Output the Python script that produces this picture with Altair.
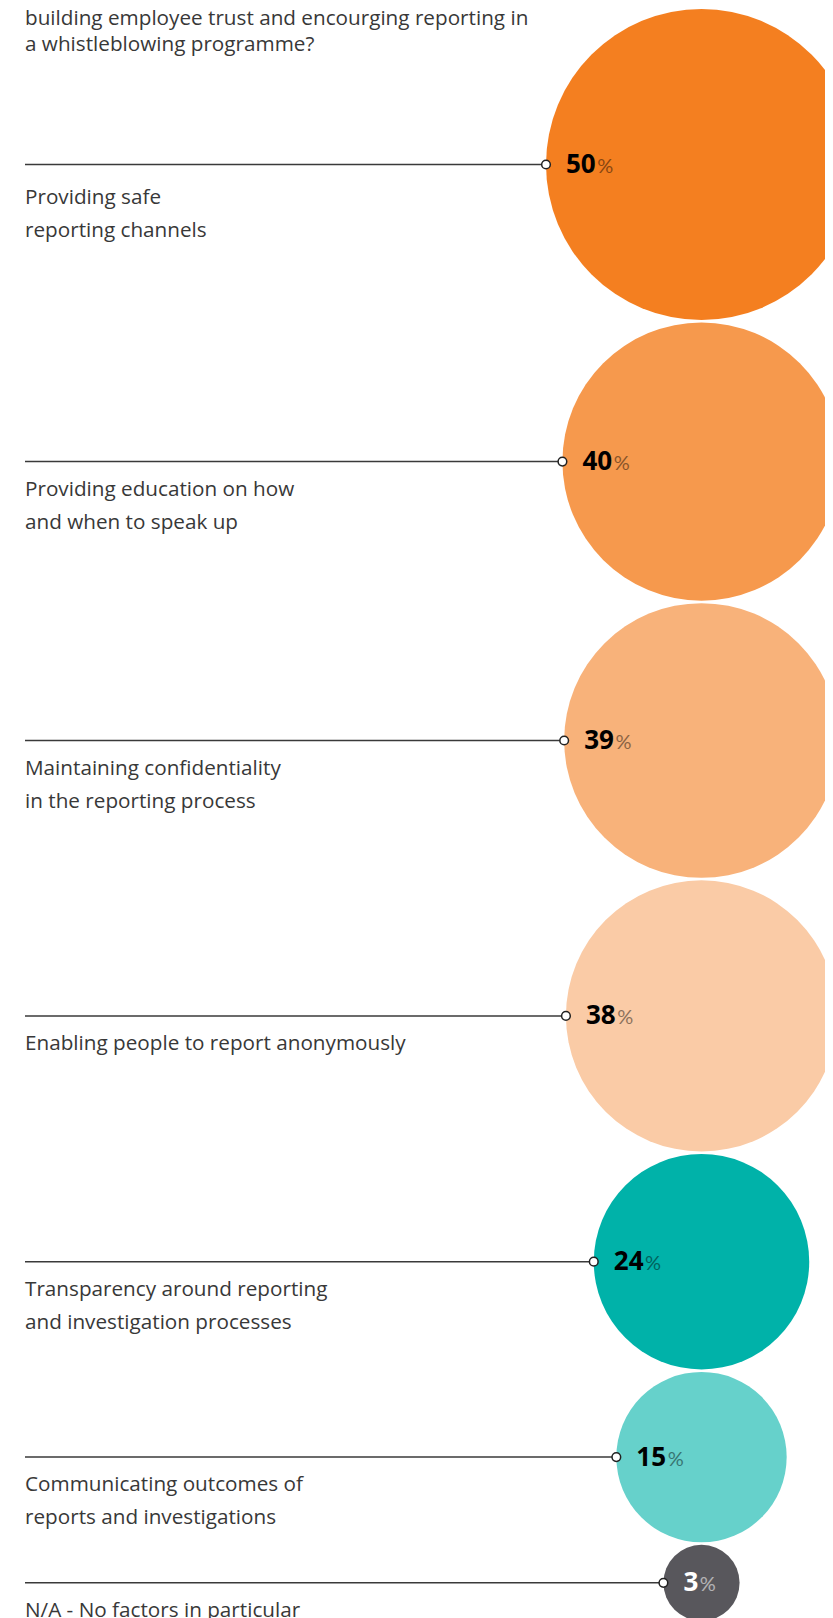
import math
import altair as alt
import pandas as pd

title_lines = [
    "building employee trust and encourging reporting in",
    "a whistleblowing programme?",
]
categories = [
    "Providing safe\nreporting channels",
    "Providing education on how\nand when to speak up",
    "Maintaining confidentiality\nin the reporting process",
    "Enabling people to report anonymously",
    "Transparency around reporting\nand investigation processes",
    "Communicating outcomes of\nreports and investigations",
    "N/A - No factors in particular",
]
values = [50, 40, 39, 38, 24, 15, 3]
palette = ["#F47F20", "#F6994D", "#F8B27A", "#FACBA6", "#00B2A9", "#66D1CB", "#58575C"]

# layout / style constants (pixels in plot coordinates)
W, H = 817, 1610
R_MAX = 155.5      # radius of the largest bubble
GAP = 2.5          # gap between stacked bubbles
TOP = 1
CX = 693.5
LINE_X0 = 17
FONT = "Open Sans"
FONT_SIZE = 20.7
NUM_FONT = "Open Sans"
NUM_SIZE = 26
DIGIT_W = 14.9

vmax = max(values)
rows = []
y = TOP
for i, (c, v) in enumerate(zip(categories, values)):
    r = R_MAX * math.sqrt(v / vmax)
    cy = y + r
    y = cy + r + GAP
    rows.append(dict(
        order=i, category=c, value=v, num=str(v), cy=cy,
        cx=CX, x0=LINE_X0, xe=CX - r,
        xn=CX - r + 20, xp=CX - r + 20 + len(str(v)) * DIGIT_W + 1.5,
        ly=cy + (39 if i == 0 else 34),
    ))
df = pd.DataFrame(rows)

xs = alt.Scale(domain=[0, W], nice=False, zero=False)
ys = alt.Scale(domain=[0, H], reverse=True, nice=False, zero=False)

base = alt.Chart(df)

# Vega symbol size = area of the bounding square = 4 r^2
circles = base.mark_circle(opacity=1, clip=True).encode(
    x=alt.X("cx:Q", scale=xs, axis=None),
    y=alt.Y("cy:Q", scale=ys, axis=None),
    size=alt.Size("value:Q", scale=alt.Scale(domain=[0, vmax], range=[0, 4 * R_MAX ** 2], zero=True), legend=None),
    color=alt.Color("category:N", scale=alt.Scale(domain=categories, range=palette), legend=None),
)

lines = base.mark_rule(color="#3a3a3a", strokeWidth=1.5).encode(
    x=alt.X("x0:Q", scale=xs, axis=None),
    x2="xe:Q",
    y=alt.Y("cy:Q", scale=ys, axis=None),
)

dots = base.mark_point(shape="circle", filled=True, fill="white", stroke="#222222", strokeWidth=1.5, size=75, opacity=1).encode(
    x=alt.X("xe:Q", scale=xs, axis=None),
    y=alt.Y("cy:Q", scale=ys, axis=None),
)

nums = base.mark_text(align="left", baseline="alphabetic", dy=8.5, font=NUM_FONT, fontSize=NUM_SIZE, fontWeight="bold").encode(
    x=alt.X("xn:Q", scale=xs, axis=None),
    y=alt.Y("cy:Q", scale=ys, axis=None),
    text="num:N",
    color=alt.condition("datum.value < 10", alt.value("white"), alt.value("black")),
)

pct = base.mark_text(align="left", baseline="alphabetic", dy=8.5, font="Lato", fontSize=20).encode(
    x=alt.X("xp:Q", scale=xs, axis=None),
    y=alt.Y("cy:Q", scale=ys, axis=None),
    text=alt.value("%"),
    color=alt.condition("datum.value < 10", alt.value("white"), alt.value("black")),
    opacity=alt.condition("datum.value < 10", alt.value(0.55), alt.value(0.45)),
)

labels = base.mark_text(align="left", baseline="alphabetic", font=FONT, fontSize=FONT_SIZE, lineBreak="\n", lineHeight=33, color="#383838").encode(
    x=alt.X("x0:Q", scale=xs, axis=None),
    y=alt.Y("ly:Q", scale=ys, axis=None),
    text="category:N",
)

title_df = pd.DataFrame({"t": ["\n".join(title_lines)]})
title = alt.Chart(title_df).mark_text(align="left", baseline="alphabetic", font=FONT, fontSize=FONT_SIZE, lineBreak="\n", lineHeight=26, color="#383838").encode(
    x=alt.value(LINE_X0), y=alt.value(17), text="t:N"
)

chart = alt.layer(circles, lines, dots, nums, pct, labels, title).properties(
    width=W, height=H, autosize=alt.AutoSizeParams(type="none"), padding=0, background="white",
).configure_view(strokeWidth=0, stroke="transparent")

chart.save("out.html", embed_options={"renderer": "svg", "actions": False})
